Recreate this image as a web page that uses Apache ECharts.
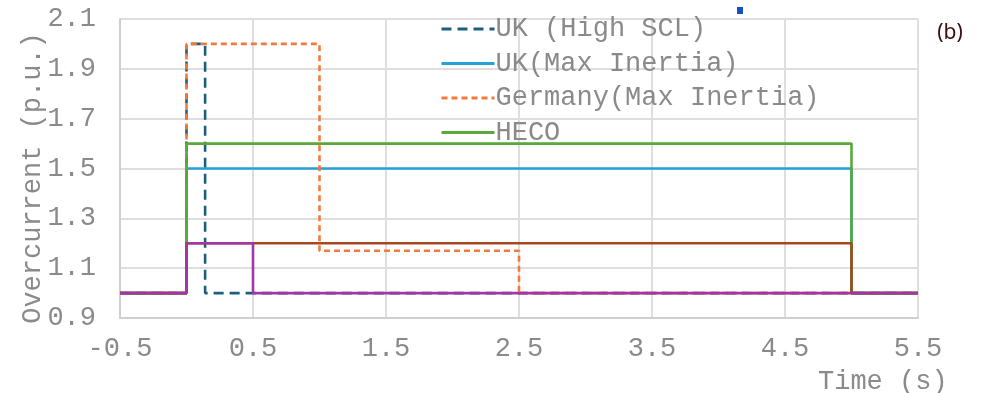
<!DOCTYPE html>
<html>
<head>
<meta charset="utf-8">
<script src="https://cdn.jsdelivr.net/npm/echarts@6/dist/echarts.min.js"></script>
<style>
  html, body { margin: 0; padding: 0; background: #fff; }
  #chart { width: 985px; height: 393px; }
</style>
</head>
<body>
<div id="chart"></div>
<script>
// Step profiles: each value holds from its time until the next time.
const ukHighSclTime   = [-0.5, 0, 0.14, 5.5];
const ukHighSclValue  = [1.0, 2.0, 1.0, 1.0];
const ukMaxInertiaTime  = [-0.5, 0, 5, 5.5];
const ukMaxInertiaValue = [1.0, 1.5, 1.0, 1.0];
const germanyTime  = [-0.5, 0, 1.0, 2.5, 5.5];
const germanyValue = [1.0, 2.0, 1.17, 1.0, 1.0];
const hecoTime  = [-0.5, 0, 5, 5.5];
const hecoValue = [1.0, 1.6, 1.0, 1.0];
const brownTime  = [-0.5, 0, 5, 5.5];
const brownValue = [1.0, 1.2, 1.0, 1.0];
const purpleTime  = [-0.5, 0, 0.5, 5.5];
const purpleValue = [1.0, 1.2, 1.0, 1.0];

const seriesNames = ['UK (High SCL)', 'UK(Max Inertia)', 'Germany(Max Inertia)', 'HECO'];
const xAxisTitle = 'Time (s)';
const yAxisTitle = 'Overcurrent (p.u.)';
const panelTag = '(b)';

const pairs = (t, v) => t.map((x, i) => [x, v[i]]);
const mono = 'Liberation Mono';
const textGray = '#8a8a8a';

function stepLine(name, t, v, color, type, z) {
  return {
    name: name,
    type: 'line',
    step: 'end',
    data: pairs(t, v),
    showSymbol: false,
    symbol: 'none',
    silent: true,
    z: z,
    lineStyle: { color: color, width: 2.6, type: type },
    itemStyle: { color: color }
  };
}

const chart = echarts.init(document.getElementById('chart'), null, { renderer: 'canvas' });
chart.setOption({
  animation: false,
  backgroundColor: '#ffffff',
  grid: { left: 120, right: 67, top: 19, bottom: 75, containLabel: false },
  xAxis: {
    type: 'value',
    min: -0.5, max: 5.5, interval: 1,
    axisLine: { show: true, onZero: false, lineStyle: { color: '#cfcfcf', width: 2 } },
    axisTick: { show: false },
    splitLine: { show: true, lineStyle: { color: '#dedede', width: 2 } },
    axisLabel: {
      fontFamily: mono, fontSize: 27, color: textGray, margin: 17,
      formatter: v => v.toFixed(1),
      showMinLabel: true, showMaxLabel: true
    }
  },
  yAxis: {
    type: 'value',
    min: 0.9, max: 2.1, interval: 0.2,
    axisLine: { show: true, onZero: false, lineStyle: { color: '#cfcfcf', width: 2 } },
    axisTick: { show: false },
    splitLine: { show: true, lineStyle: { color: '#dedede', width: 2 } },
    axisLabel: {
      fontFamily: mono, fontSize: 27, color: textGray, margin: 24,
      formatter: v => v.toFixed(1),
      showMinLabel: true, showMaxLabel: true
    }
  },
  legend: {
    data: seriesNames,
    orient: 'vertical',
    left: 440, top: 14,
    itemWidth: 53, itemHeight: 14, itemGap: 4.5,
    padding: 0,
    itemStyle: { opacity: 0 },
    lineStyle: { width: 3 },
    textStyle: { fontFamily: mono, fontSize: 27, color: textGray, lineHeight: 30, padding: [0, 0, 0, -4] },
    selectedMode: false
  },
  series: [
    stepLine(seriesNames[0], ukHighSclTime, ukHighSclValue, '#1d5e7e', [10, 6], 2),
    stepLine(seriesNames[1], ukMaxInertiaTime, ukMaxInertiaValue, '#25a1d8', 'solid', 3),
    stepLine(seriesNames[2], germanyTime, germanyValue, '#f4793d', [6, 4], 4),
    stepLine(seriesNames[3], hecoTime, hecoValue, '#5aa83a', 'solid', 5),
    stepLine('', brownTime, brownValue, '#a6481f', 'solid', 6),
    stepLine('', purpleTime, purpleValue, '#a534a5', 'solid', 7)
  ],
  graphic: [
    {
      type: 'text', left: 818, top: 368,
      style: { text: xAxisTitle, fontFamily: mono, fontSize: 27, fill: textGray }
    },
    {
      type: 'text', x: 33, y: 178, rotation: Math.PI / 2,
      style: { text: yAxisTitle, fontFamily: mono, fontSize: 27, fill: textGray, align: 'center', verticalAlign: 'middle' }
    },
    {
      type: 'text', x: 950, y: 33,
      style: { text: panelTag, fontFamily: 'Noto Sans', fontSize: 21, fill: '#3f0d0d', align: 'center', verticalAlign: 'middle' }
    },
    {
      type: 'rect', shape: { x: 737, y: 7, width: 6, height: 7 },
      style: { fill: '#1550c4' }
    }
  ]
});
</script>
</body>
</html>
